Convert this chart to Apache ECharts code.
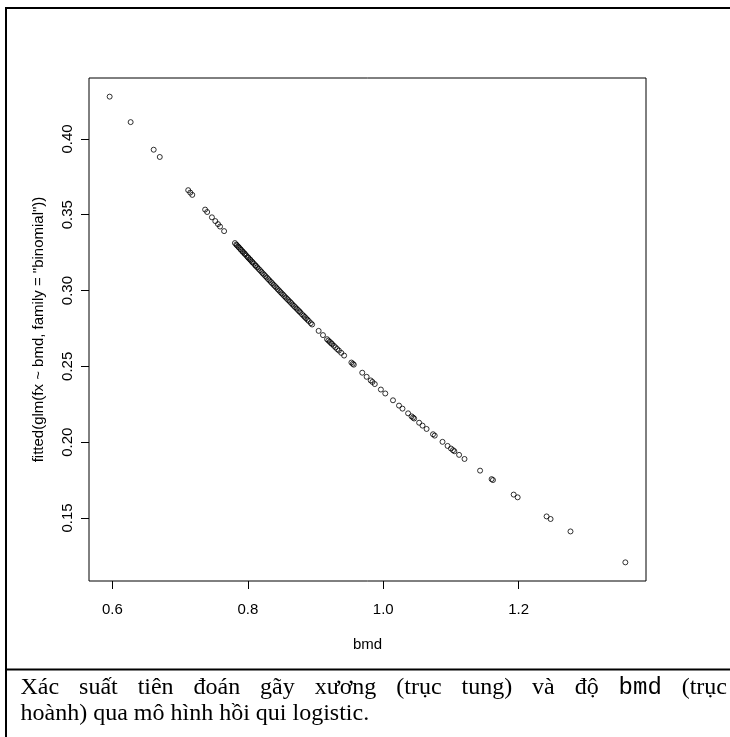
<!DOCTYPE html>
<html><head><meta charset="utf-8">
<script src="https://cdn.jsdelivr.net/npm/echarts@6/dist/echarts.min.js"></script>
<style>html,body{margin:0;padding:0;background:#fff}#c{width:730px;height:737px}</style>
</head><body><div id="c"></div>
<script>
const bmd = [0.596,0.627,0.661,0.670,0.712,0.715,0.718,0.737,0.740,0.747,0.752,0.756,0.759,0.765,
0.781,0.783,0.784,0.786,0.787,0.789,0.790,0.792,0.793,0.795,0.796,0.798,0.800,0.801,0.803,0.804,0.806,0.807,0.809,0.811,0.812,0.814,0.816,0.818,0.820,0.822,0.824,0.826,0.828,0.830,0.832,0.834,0.836,0.838,0.840,0.842,0.844,0.846,0.848,0.850,0.852,0.854,0.856,0.858,0.860,0.862,0.864,0.866,0.868,0.870,0.872,0.874,0.876,
0.8775,0.880,0.8823,0.884,0.886,0.888,0.890,0.893,0.895,0.9046,0.911,0.917,0.919,0.921,0.923,0.9245,0.927,0.9295,0.932,0.9345,0.938,0.9422,0.953,0.955,0.9565,0.969,0.9755,0.9815,0.984,0.9875,0.9965,1.003,1.0144,1.0233,1.0284,1.0367,1.0418,1.044,1.0456,1.053,1.058,1.064,1.0735,1.076,1.0875,1.095,
1.100,1.103,1.105,1.112,1.120,1.143,1.160,1.162,1.1926,1.1985,1.2412,1.2471,1.2765,1.3575];
const fitted = [0.4279,0.4111,0.3929,0.3881,0.3662,0.3646,0.3631,0.3534,0.3518,0.3483,0.3458,0.3438,0.3422,0.3392,
0.3313,0.3303,0.3298,0.3289,0.3284,0.3274,0.3269,0.3259,0.3254,0.3245,0.3240,0.3230,0.3220,0.3215,0.3206,0.3201,0.3191,0.3186,0.3177,0.3167,0.3162,0.3153,0.3143,0.3134,0.3124,0.3114,0.3105,0.3095,0.3086,0.3076,0.3067,0.3057,0.3048,0.3038,0.3029,0.3020,0.3010,0.3001,0.2991,0.2982,0.2973,0.2963,0.2954,0.2945,0.2936,0.2927,0.2918,0.2908,0.2899,0.2890,0.2881,0.2872,0.2863,
0.2856,0.2844,0.2834,0.2826,0.2817,0.2808,0.2799,0.2785,0.2776,0.2734,0.2706,0.2679,0.2670,0.2662,0.2653,0.2647,0.2636,0.2625,0.2614,0.2604,0.2589,0.2571,0.2525,0.2517,0.2511,0.2458,0.2431,0.2407,0.2397,0.2383,0.2347,0.2321,0.2276,0.2241,0.2221,0.2190,0.2170,0.2162,0.2156,0.2128,0.2109,0.2087,0.2052,0.2043,0.2002,0.1975,
0.1958,0.1947,0.1940,0.1916,0.1889,0.1812,0.1756,0.1750,0.1654,0.1636,0.1510,0.1493,0.1411,0.1207];
const xTicks = [0.6, 0.8, 1.0, 1.2];
const yTicks = [0.15, 0.20, 0.25, 0.30, 0.35, 0.40];
const xTitle = 'bmd';
const yTitle = 'fitted(glm(fx ~ bmd, family = "binomial"))';
const captionLine1 = [['Xác','s'],['suất','s'],['tiên','s'],['đoán','s'],['gãy','s'],['xương','s'],['(trục','s'],['tung)','s'],['và','s'],['độ','s'],['bmd','m'],['(trục','s']];
const captionLine2 = [['hoành)','s'],['qua','s'],['mô','s'],['hình','s'],['hồi','s'],['qui','s'],['logistic.','s']];

const SERIF = '"Liberation Serif", "Times New Roman", serif';
const MONO = '"Liberation Mono", "Courier New", monospace';
const CAP_SIZE = 24;
const cv = document.createElement('canvas').getContext('2d');
function w(t, f){ cv.font = CAP_SIZE + 'px ' + (f==='m'?MONO:SERIF); return cv.measureText(t).width; }
function layoutLine(words, x0, x1, y, justify){
  const widths = words.map(o=>w(o[0],o[1]));
  const total = widths.reduce((a,b)=>a+b,0);
  const gap = justify ? (x1-x0-total)/(words.length-1) : w(' ','s');
  const els = []; let x = x0;
  words.forEach((o,i)=>{
    els.push({type:'text', x:x, y:y, style:{text:o[0], font: CAP_SIZE+'px '+(o[1]==='m'?MONO:SERIF), fill:'#000', verticalAlign:'middle', align:'left'}});
    x += widths[i] + gap;
  });
  return els;
}
const graphics = [
  {type:'line', shape:{x1:5,y1:8,x2:730,y2:8}, style:{stroke:'#000',lineWidth:2}},
  {type:'line', shape:{x1:6,y1:7,x2:6,y2:737}, style:{stroke:'#000',lineWidth:2}},
  {type:'line', shape:{x1:5,y1:669.5,x2:730,y2:669.5}, style:{stroke:'#000',lineWidth:2}},
  ...layoutLine(captionLine1, 20.5, 727, 688, true),
  ...layoutLine(captionLine2, 20.5, 727, 714, false)
];

const chart = echarts.init(document.getElementById('c'), null, {renderer:'canvas'});
chart.setOption({
  animation:false,
  backgroundColor:'#fff',
  grid:{left:89, top:78, width:557, height:503, show:true, borderColor:'#000', borderWidth:1, containLabel:false},
  xAxis:{type:'value', min:0.5655, max:1.388,
    axisLine:{show:false}, splitLine:{show:false},
    axisTick:{show:true, customValues:xTicks, length:8, lineStyle:{color:'#000'}},
    axisLabel:{customValues:xTicks, formatter:v=>v.toFixed(1), fontSize:15, color:'#000', fontFamily:'"Liberation Sans", Arial, sans-serif', margin:21},
    name:xTitle, nameLocation:'middle', nameGap:56, nameTextStyle:{fontSize:15, color:'#000', fontFamily:'"Liberation Sans", Arial, sans-serif'}
  },
  yAxis:{type:'value', min:0.1084, max:0.4402,
    axisLine:{show:false}, splitLine:{show:false},
    axisTick:{show:true, customValues:yTicks, length:8, lineStyle:{color:'#000'}},
    axisLabel:{customValues:yTicks, formatter:v=>v.toFixed(2), fontSize:15, color:'#000', rotate:90, fontFamily:'"Liberation Sans", Arial, sans-serif', margin:14},
    name:yTitle, nameLocation:'middle', nameRotate:90, nameGap:43, nameTextStyle:{fontSize:15, color:'#000', fontFamily:'"Liberation Sans", Arial, sans-serif'}
  },
  series:[{type:'scatter', data:bmd.map((x,i)=>[x,fitted[i]]), symbol:'circle', symbolSize:5,
    itemStyle:{color:'rgba(0,0,0,0)', borderColor:'#000', borderWidth:1}, emphasis:{disabled:true}}],
  graphic:graphics
});
</script></body></html>
